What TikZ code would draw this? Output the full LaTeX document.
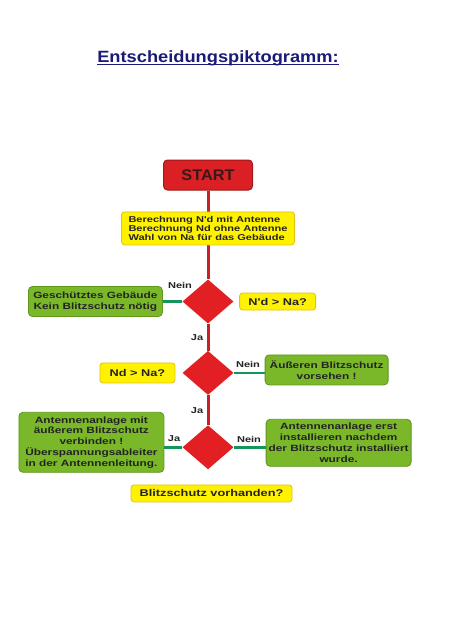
\documentclass[tikz,border=0pt]{standalone}
\usepackage{fontspec}
\setmainfont{Liberation Sans}
\newfontfamily\boxfont[FakeStretch=1.3]{Liberation Sans}
\newfontfamily\titlefont[FakeStretch=1.12]{Liberation Sans}
\newfontfamily\startfont[FakeStretch=1.06]{Liberation Sans}
\usetikzlibrary{shapes.geometric,positioning,calc,backgrounds}
\definecolor{titleblue}{RGB}{26,26,120}
\definecolor{startred}{RGB}{218,32,36}
\definecolor{startborder}{RGB}{165,22,22}
\definecolor{starttext}{RGB}{55,25,25}
\definecolor{boxyellow}{RGB}{255,242,0}
\definecolor{yellowborder}{RGB}{225,195,20}
\definecolor{boxgreen}{RGB}{122,184,42}
\definecolor{greenborder}{RGB}{95,150,30}
\definecolor{boxtext}{RGB}{35,35,35}
\definecolor{diared}{RGB}{226,32,36}
\definecolor{linered}{RGB}{205,30,40}
\definecolor{linegreen}{RGB}{20,150,90}

\begin{document}
\begin{tikzpicture}[x=1pt, y=-1pt,
    startbox/.style={rectangle, rounded corners=4pt, draw=startborder, line width=1pt, fill=startred, minimum width=89pt, minimum height=30pt, inner sep=0pt, text=starttext, font=\startfont\bfseries\fontsize{15.4}{17}\selectfont},
    yellowbox/.style={rectangle, rounded corners=3pt, draw=yellowborder, line width=0.8pt, fill=boxyellow, inner sep=0pt, text=boxtext, font=\boxfont\bfseries\fontsize{9.8}{11}\selectfont},
    greenbox/.style={rectangle, rounded corners=4pt, draw=greenborder, line width=0.8pt, fill=boxgreen, inner sep=0pt, align=center, text=boxtext, font=\boxfont\bfseries\fontsize{9.1}{10.8}\selectfont},
    decision/.style={diamond, fill=diared, minimum width=51pt, minimum height=44pt, inner sep=0pt},
    lbl/.style={text=boxtext, font=\boxfont\bfseries\fontsize{8.5}{10}\selectfont, inner sep=0pt},
    redline/.style={draw=linered, line width=3pt},
    greenline/.style={draw=linegreen, line width=2.5pt}]

  \begin{scope}[on background layer]
    \fill[white] (0,0) rectangle (452,640);
  \end{scope}
  \useasboundingbox (0,0) rectangle (452,640);

  % Title
  \node[anchor=base, inner sep=0pt, text=titleblue, font=\titlefont\bfseries\fontsize{16.3}{19}\selectfont] (title) at (218,62.3) {Entscheidungspiktogramm:};
  \draw[titleblue, line width=1.4pt] ($(title.base west)+(0,2)$) -- ($(title.base east)+(0,2)$);

  % Define nodes
  \node[startbox] (start) at (208,175) {START};
  \node[yellowbox, below=21pt of start, minimum width=173pt, minimum height=33pt, align=left, font=\boxfont\bfseries\fontsize{8.5}{8.8}\selectfont] (calc) {Berechnung N'd mit Antenne\\Berechnung Nd ohne Antenne\\Wahl von Na für das Gebäude};

  % Question 1 -->
  \node[decision, below=34pt of calc] (d1) {};
  \node[greenbox, left=19.5pt of d1, minimum width=134pt, minimum height=30pt] (safe) {Geschütztes Gebäude\\Kein Blitzschutz nötig};
  \node[yellowbox, right=5.5pt of d1, minimum width=76pt, minimum height=17pt] (q1) {N'd > Na?};

  % Question 2 -->
  \node[decision, below=27pt of d1] (d2) {};
  \node[yellowbox, left=7pt of d2, minimum width=75pt, minimum height=20pt] (q2) {Nd > Na?};
  \node[greenbox, right=31pt of d2, yshift=3pt, minimum width=123pt, minimum height=30pt] (ext) {Äußeren Blitzschutz\\vorsehen !};

  % Question 3 -->
  \node[decision, below=30pt of d2] (d3) {};
  \node[greenbox, left=18pt of d3, yshift=5pt, minimum width=145pt, minimum height=60pt] (conn) {Antennenanlage mit\\äußerem Blitzschutz\\verbinden !\\Überspannungsableiter\\in der Antennenleitung.};
  \node[greenbox, right=32pt of d3, yshift=4.5pt, minimum width=145pt, minimum height=47pt] (later) {Antennenanlage erst\\installieren nachdem\\der Blitzschutz installiert\\wurde.};
  \node[yellowbox, below=15pt of d3, xshift=3.5pt, minimum width=161pt, minimum height=17pt] (q3) {Blitzschutz vorhanden?};

  % Labels
  \node[lbl] (nein1) at ($(d1)+(-28,-16)$) {Nein};
  \node[lbl] (ja1) at ($(d1)+(-11,36)$) {Ja};
  \node[lbl] (nein2) at ($(d2)+(40,-8)$) {Nein};
  \node[lbl] (ja2) at ($(d2)+(-11,38)$) {Ja};
  \node[lbl] (ja3) at ($(d3)+(-34,-9)$) {Ja};
  \node[lbl] (nein3) at ($(d3)+(41,-8)$) {Nein};

  \begin{scope}[on background layer]
    \draw[redline] (start) -- (calc) -- (d1);
    \draw[redline] (d1) -- (d2);
    \draw[redline] (d2) -- (d3);
  \end{scope}

  \draw[greenline] (safe.east) -- (d1.west);
  \draw[greenline] (d2.east) -- (ext.west |- d2.east);
  \draw[greenline] (d3.west) -- (conn.east |- d3.west);
  \draw[greenline] (d3.east) -- (later.west |- d3.east);

\end{tikzpicture}
\end{document}
